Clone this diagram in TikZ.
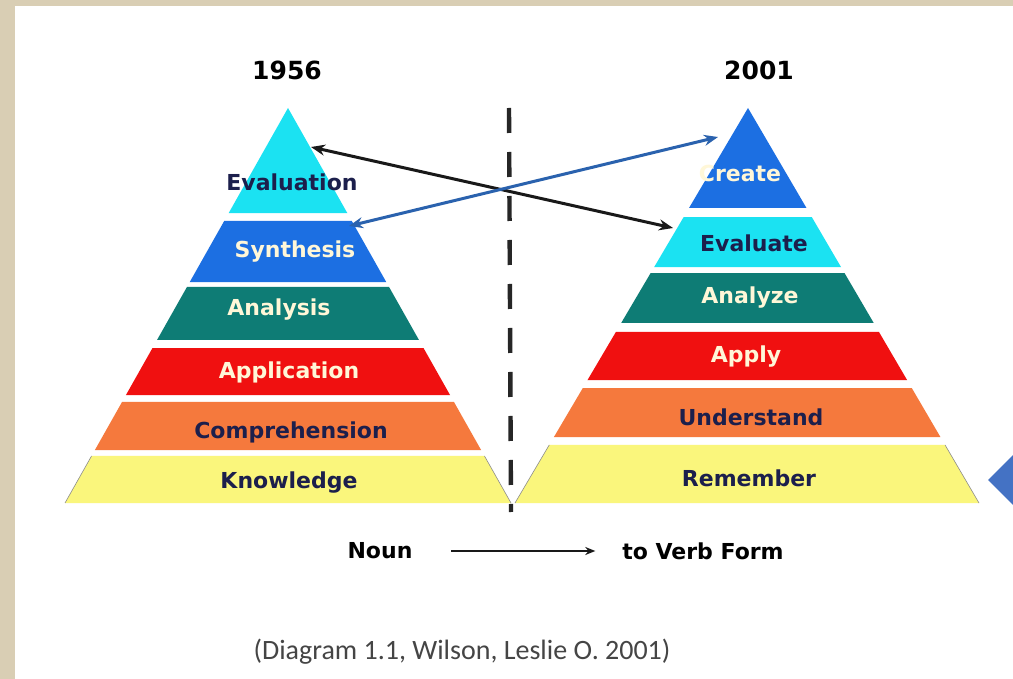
\documentclass[tikz,border=0pt]{standalone}
\usepackage{fontspec}
\setmainfont{DejaVu Sans}
\newfontfamily\capfont{Carlito}
\usepackage{tikz}
\usetikzlibrary{arrows.meta, calc}
\definecolor{framebg}{HTML}{D9CEB4}
\definecolor{cyanband}{HTML}{1BE2F2}
\definecolor{blueband}{HTML}{1C6FE2}
\definecolor{tealband}{HTML}{0E7C75}
\definecolor{redband}{HTML}{F01010}
\definecolor{orangeband}{HTML}{F5793D}
\definecolor{yellowband}{HTML}{FAF67C}
\definecolor{darktxt}{HTML}{1C1F4C}
\definecolor{lighttxt}{HTML}{FFF7D8}
\definecolor{linkblue}{HTML}{2A62AE}
\definecolor{wedgeblue}{HTML}{4472C4}
\definecolor{captxt}{HTML}{454545}
\tikzset{
  lvl/.style={font=\fontsize{11}{13}\selectfont\bfseries, inner sep=1pt},
  dk/.style={lvl, text=darktxt},
  lt/.style={lvl, text=lighttxt},
  year/.style={font=\fontsize{12.5}{14}\selectfont\bfseries},
  form/.style={font=\fontsize{11}{13}\selectfont\bfseries},
  srcnote/.style={font=\capfont\fontsize{14}{16}\selectfont, text=captxt},
  yelledge/.style={draw=black!45, line width=0.3pt},
  link/.style={<->, >={Stealth[length=7pt, width=5.5pt]}, line width=1.5pt},
  arr/.style={->, >={Stealth[length=5pt, width=4pt]}, line width=1.2pt, draw=black!90},
  divider/.style={line width=2.2pt, draw=black!85, dash pattern=on 12.5pt off 9.5pt},
}

\begin{document}
\begin{tikzpicture}[x=0.5pt, y=-0.5pt]
  \useasboundingbox (0,0) rectangle (1013,679);
  \fill[white] (0,0) rectangle (1013,679);
  \fill[framebg] (0,0) rectangle (15,679);
  \fill[framebg] (0,0) rectangle (1013,6);

  % pyramid corners
  \coordinate (L) at (288,108);
  \coordinate (La) at (65,503);
  \coordinate (Lb) at (511,503);
  \coordinate (R) at (748,108);
  \coordinate (Ra) at (515,503);
  \coordinate (Rb) at (979,503);

  % 1956 levels
  \foreach \ta/\tb/\col in {0/0.266/cyanband, 0.286/0.441/blueband, 0.453/0.587/tealband,
      0.608/0.727/redband, 0.744/0.866/orangeband, 0.881/1/yellowband}
    \fill[\col] ($(L)!\ta!(La)$) -- ($(L)!\tb!(La)$) -- ($(L)!\tb!(Lb)$) -- ($(L)!\ta!(Lb)$) -- cycle;
  % 2001 levels
  \foreach \ta/\tb/\col in {0/0.253/blueband, 0.276/0.403/cyanband, 0.418/0.544/tealband,
      0.567/0.689/redband, 0.709/0.833/orangeband, 0.853/1/yellowband}
    \fill[\col] ($(R)!\ta!(Ra)$) -- ($(R)!\tb!(Ra)$) -- ($(R)!\tb!(Rb)$) -- ($(R)!\ta!(Rb)$) -- cycle;
  \draw[yelledge] ($(L)!0.881!(La)$) -- (La);
  \draw[yelledge] ($(L)!0.881!(Lb)$) -- (Lb);
  \draw[yelledge] ($(R)!0.853!(Ra)$) -- (Ra);
  \draw[yelledge] ($(R)!0.853!(Rb)$) -- (Rb);

  \node[year] (y1956) at (287,70) {1956};
  \node[year] (y2001) at (759,70) {2001};

  \node[dk] (evaluation) at (292,182) {Evaluation};
  \node[lt] (synthesis) at (295,252) {Synthesis};
  \node[lt] (analysis) at (279,310) {Analysis};
  \node[lt] (application) at (289,372) {Application};
  \node[dk] (comprehension) at (291,432) {Comprehension};
  \node[dk] (knowledge) at (289,483) {Knowledge};

  \node[lt] (create) at (740,173) {Create};
  \node[dk] (evaluate) at (754,243) {Evaluate};
  \node[lt] (analyze) at (750,298) {Analyze};
  \node[lt] (apply) at (746,357) {Apply};
  \node[dk] (understand) at (751,417) {Understand};
  \node[dk] (remember) at (749,478) {Remember};

  % divider
  \coordinate (dtop) at (509,108);
  \coordinate (dbot) at (511,512);
  \draw[divider] (dtop) -- (dbot);

  % level links
  \coordinate (evnR) at (311,147);
  \coordinate (evaL) at (673,228);
  \coordinate (synR) at (349,226);
  \coordinate (creL) at (718,137);
  \draw[link, draw=black!90] (evnR) -- (evaL);
  \draw[link, draw=linkblue] (synR) -- (creL);

  \node[form] (noun) at (380,551) {Noun};
  \node[form] (verb) at (703,551) {to Verb Form};
  \draw[arr] ([xshift=16pt]noun.east) -- ([xshift=-10pt]verb.west);

  \node[srcnote] (source) at (462,652) {(Diagram 1.1, Wilson, Leslie O. 2001)};

  \fill[wedgeblue] (988,480) -- (1013,455) -- (1013,505) -- cycle;
\end{tikzpicture}
\end{document}
